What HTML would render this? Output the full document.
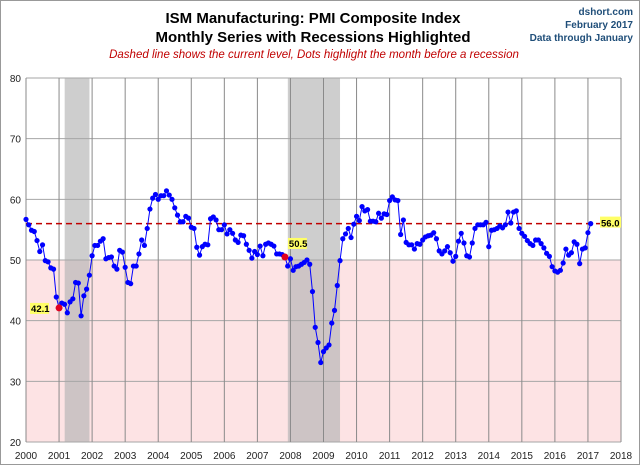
<!DOCTYPE html>
<html><head><meta charset="utf-8"><style>
body{margin:0;background:#fff;font-family:"Liberation Sans",sans-serif}
#wrap{position:relative;width:638px;height:463px;border:1px solid #999;overflow:hidden}
.t{position:absolute;white-space:nowrap}
</style></head><body>
<div id="wrap">
<div class="t" style="left:0;width:624px;text-align:center;top:8px;font-size:15px;font-weight:bold;line-height:19px">ISM Manufacturing: PMI Composite Index<br>Monthly Series with Recessions Highlighted</div>
<div class="t" style="left:0;width:626px;text-align:center;top:48px;font-size:11.5px;font-style:italic;color:#c00000">Dashed line shows the current level, Dots highlight the month before a recession</div>
<div class="t" style="right:6px;top:5px;text-align:right;font-size:10px;font-weight:bold;color:#1f4e79;line-height:13px">dshort.com<br>February 2017<br>Data through January</div>
<svg id="c" width="640" height="465" style="position:absolute;left:0;top:0"></svg>
</div>
<script>
const years=["2000","2001","2002","2003","2004","2005","2006","2007","2008","2009","2010","2011","2012","2013","2014","2015","2016","2017","2018"];
const yTicks=[20,30,40,50,60,70,80];
const pmi=[
56.7,55.8,54.9,54.7,53.2,51.4,52.5,49.9,49.7,48.7,48.5,43.9,
42.1,42.9,42.7,41.3,43.1,43.6,46.3,46.2,40.8,44.1,45.2,47.5,
50.7,52.4,52.4,53.1,53.5,50.2,50.4,50.5,49.0,48.5,51.6,51.3,
48.8,46.3,46.1,49.0,49.0,51.0,53.3,52.4,55.2,58.4,60.2,60.8,
60.0,60.6,60.6,61.4,60.7,60.0,58.6,57.4,56.3,56.3,57.2,56.9,
55.4,55.2,52.1,50.8,52.2,52.6,52.5,56.8,57.1,56.6,55.0,55.0,
55.8,54.3,55.0,54.4,53.3,52.9,54.1,54.0,52.6,51.6,50.3,51.4,
50.9,52.3,50.7,52.6,52.8,52.6,52.3,51.0,51.0,50.9,50.5,49.0,
50.2,48.3,48.9,49.0,49.3,49.6,50.0,49.3,44.8,38.9,36.4,33.1,
34.9,35.5,36.0,39.6,41.7,45.8,49.9,53.5,54.3,55.2,53.7,55.9,
57.2,56.5,58.8,58.1,58.3,56.4,56.4,56.3,57.7,56.9,57.6,57.5,
59.8,60.4,59.9,59.8,54.2,56.6,52.9,52.5,52.5,51.8,52.7,52.6,
53.3,53.8,54.0,54.1,54.5,53.5,51.5,51.0,51.5,52.2,51.2,49.8,
50.6,53.1,54.4,52.8,50.7,50.5,52.8,55.2,55.8,55.8,55.8,56.2,
52.2,54.9,55.0,55.2,55.6,55.3,55.8,57.9,56.1,57.9,58.1,55.2,
54.4,53.9,53.2,52.7,52.4,53.3,53.3,52.7,52.0,51.1,50.6,48.9,
48.2,48.0,48.3,49.5,51.8,50.8,51.2,53.0,52.6,49.4,51.8,52.0,
54.5,56.0];
const recessions=[[2001.17,2001.92],[2007.92,2009.5]];
const current=56.0;
const NS="http://www.w3.org/2000/svg";
const svg=document.getElementById('c');
const L=25,R=620,T=77,B=441;
const x=v=>L+(v-2000)/18*(R-L);
const y=v=>B-(v-20)/60*(B-T);
function mk(tag,a,parent){const e=document.createElementNS(NS,tag);for(const k in a)e.setAttribute(k,a[k]);(parent||svg).appendChild(e);return e;}
let e;
e=mk('rect',{x:L,y:T,width:R-L,height:B-T,fill:'#fff'});


e=mk('rect',{x:L,y:y(50),width:R-L,height:B-y(50),fill:'#fde3e4'});


recessions.forEach(r=>{
 e=mk('rect',{x:x(r[0]),y:T,width:x(r[1])-x(r[0]),height:B-T,fill:'#b4b4b4',opacity:0.65});
 
 
});
yTicks.forEach(t=>{
 e=mk('line',{x1:L,x2:R,y1:y(t),y2:y(t),stroke:'#a6a6a6','stroke-width':1});
 
 
 e=mk('text',{x:L-5,y:y(t)+4,'text-anchor':'end','font-size':10,'font-family':'Liberation Sans, sans-serif',fill:'#222'});
 e.textContent=t;
 
 
});
years.forEach(yr=>{
 const xv=x(+yr);
 e=mk('line',{x1:xv,x2:xv,y1:T,y2:B,stroke:'#8a8a8a','stroke-width':1});
 
 
 e=mk('text',{x:xv,y:B+17,'text-anchor':'middle','font-size':10,'font-family':'Liberation Sans, sans-serif',fill:'#222'});
 e.textContent=yr;
 
 
});
e=mk('line',{x1:L,x2:R,y1:y(current),y2:y(current),stroke:'#c00000','stroke-width':1.5,'stroke-dasharray':'6,4'});


const tx=i=>x(2000+i/12);
e=mk('polyline',{points:pmi.map((v,i)=>tx(i)+','+y(v)).join(' '),fill:'none',stroke:'#0000ff','stroke-width':1});


pmi.forEach((v,i)=>{
 e=mk('circle',{cx:tx(i),cy:y(v),r:2.6,fill:'#0000ff'});
 
 
});
const marks=[[12,'42.1',-28,4],[94,'50.5',4,-10]];
marks.forEach(m=>{
 const v=pmi[m[0]];
 e=mk('circle',{cx:tx(m[0]),cy:y(v),r:3.5,fill:'#e00020'});
 
 
 e=mk('rect',{x:tx(m[0])+m[2]-1,y:y(v)+m[3]-9,width:19,height:11,fill:'#ffff66'});
 
 
 e=mk('text',{x:tx(m[0])+m[2],y:y(v)+m[3],'font-size':9.5,'font-weight':'bold','font-family':'Liberation Sans, sans-serif'});
 e.textContent=m[1];
 
 
});
e=mk('rect',{x:599,y:y(current)-7,width:21,height:11,fill:'#ffff66'});


e=mk('text',{x:600,y:y(current)+3,'font-size':9.5,'font-weight':'bold','font-family':'Liberation Sans, sans-serif'});
e.textContent=current.toFixed(1);


</script>
</body></html>
